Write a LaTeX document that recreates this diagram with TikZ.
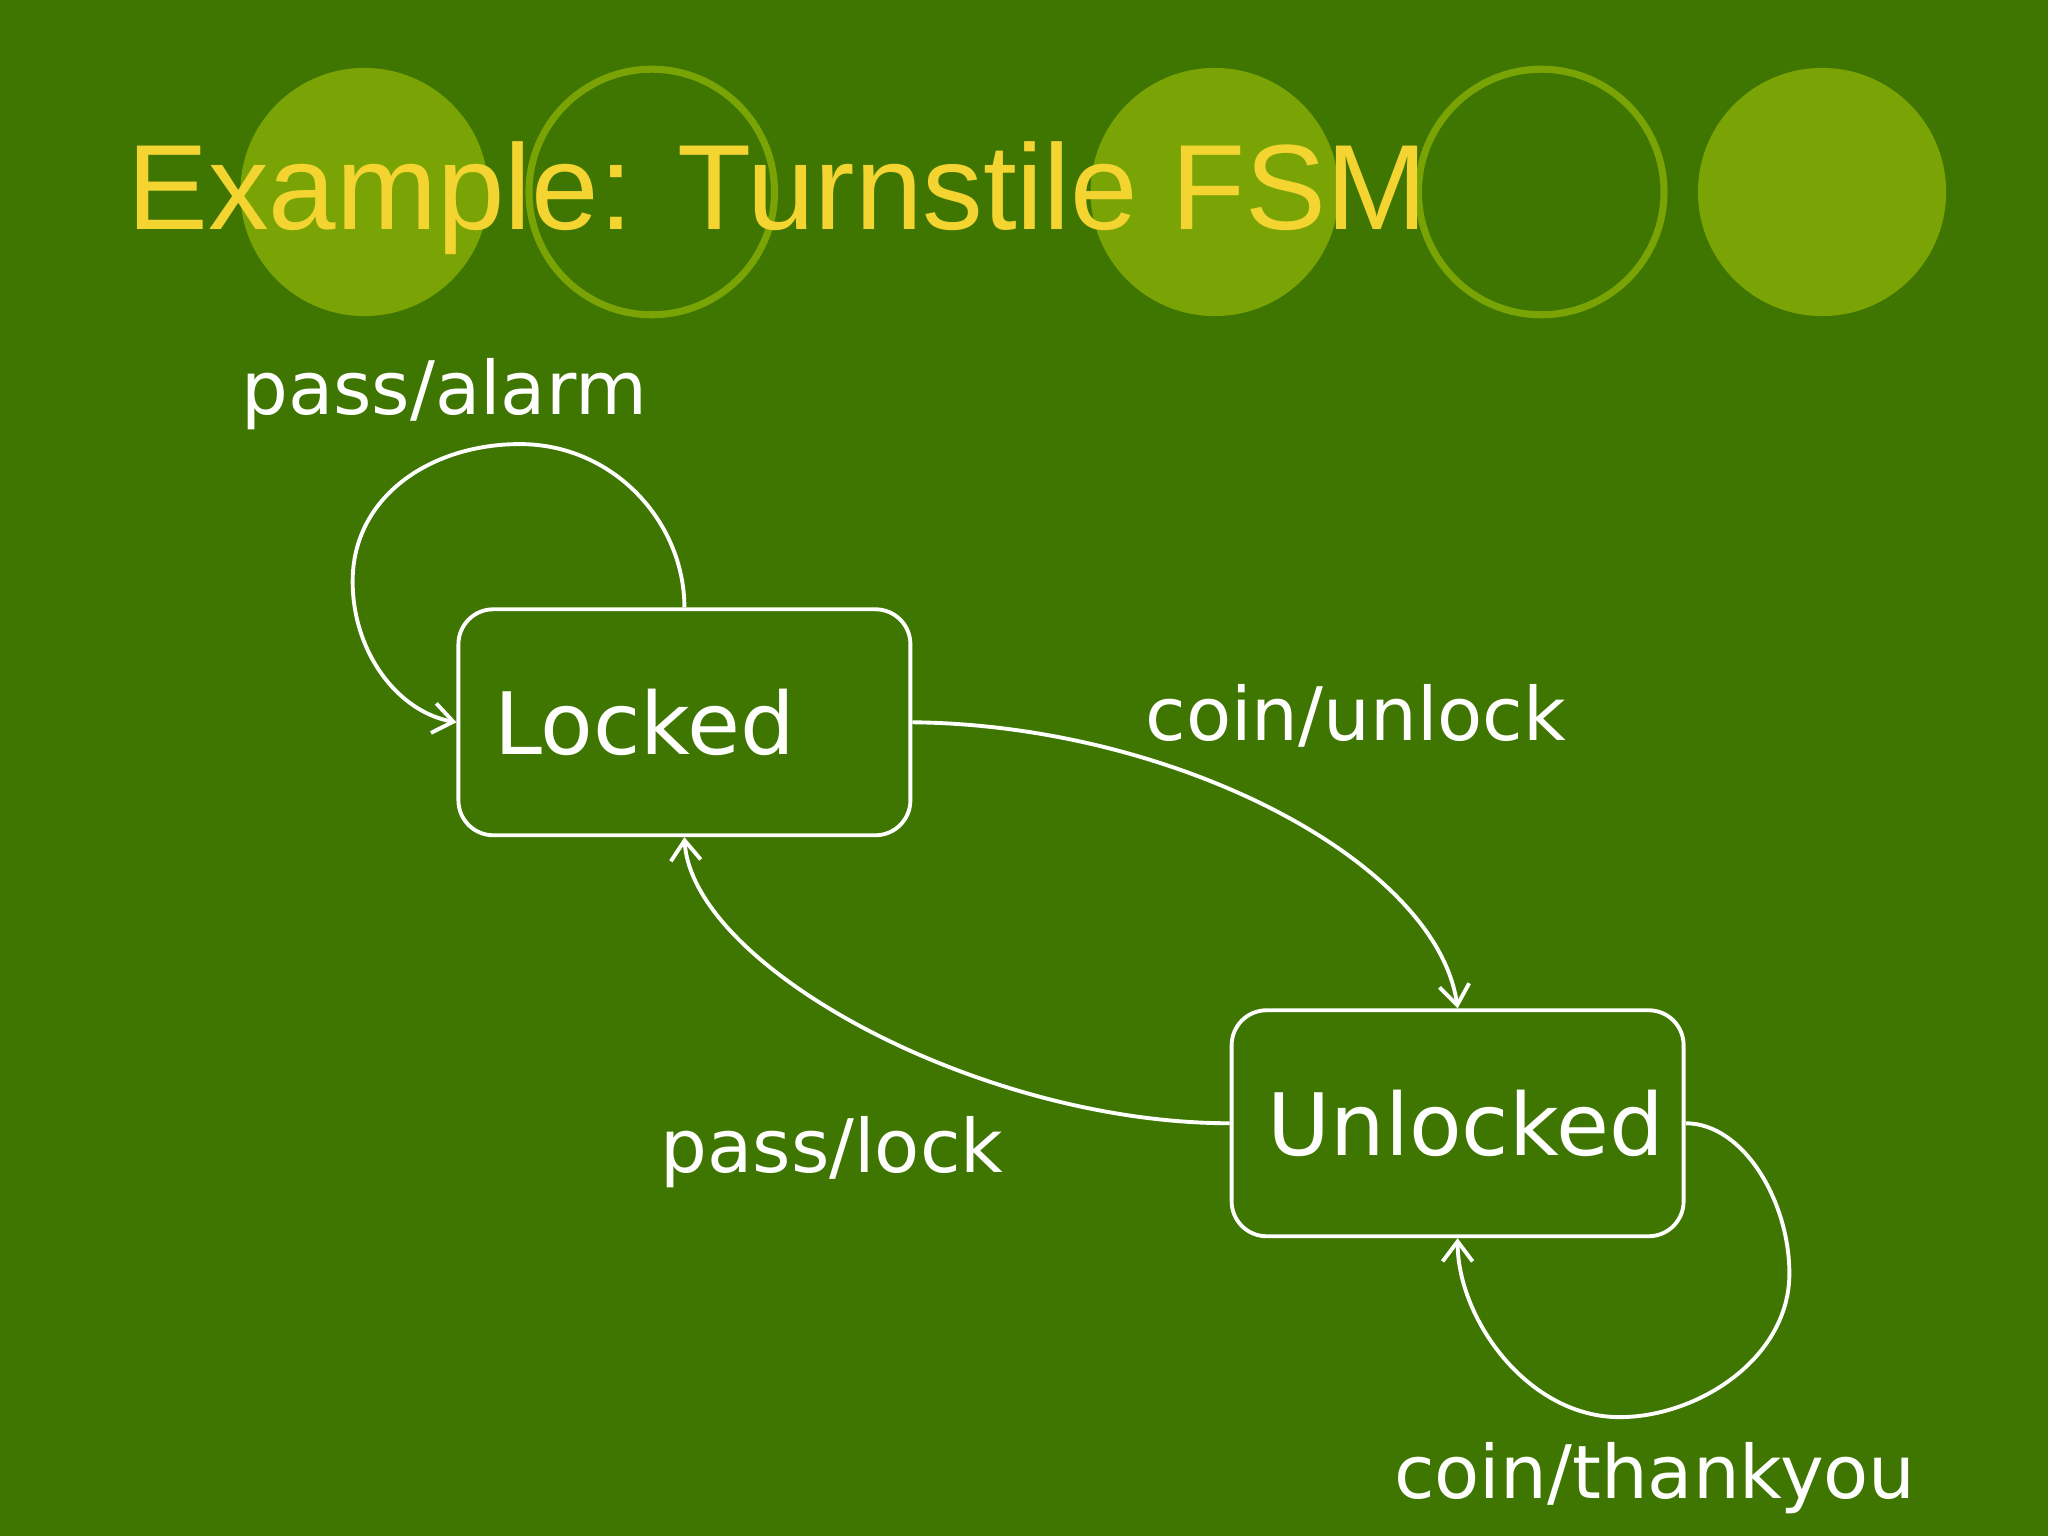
\documentclass[tikz,border=0pt]{standalone}
\usepackage{fontspec}
\setmainfont{DejaVu Sans}
\newfontfamily\titlefont{Liberation Sans}
\usetikzlibrary{arrows.meta}
\definecolor{slidegreen}{HTML}{3F7601}
\definecolor{dotgreen}{HTML}{7AA406}
\definecolor{titleyellow}{HTML}{F4D430}

\begin{document}
\begin{tikzpicture}[x=0.013061cm,y=-0.013061cm]
\fill[slidegreen] (0,0) rectangle (1568,1176);
\useasboundingbox (0,0) rectangle (1568,1176);

\begin{scope}[every path/.style={line width=2pt}]
    \fill[dotgreen] (279,147) circle (95);
    \draw[dotgreen] (499,147) circle (94);
    \fill[dotgreen] (930,147) circle (95);
    \draw[dotgreen] (1180,147) circle (94);
    \fill[dotgreen] (1395,147) circle (95);
\end{scope}

\node (title)[anchor=west,text=titleyellow,font=\titlefont\fontsize{34.5}{40}\selectfont] at (88,152) {Example: Turnstile FSM};

\begin{scope}[every node/.style={draw=white,line width=1.1pt,rounded corners=0.35cm,text=white,
              minimum width=4.52cm,minimum height=2.26cm,text width=3.8cm,align=left,
              inner xsep=0.36cm,font=\fontsize{24.5}{30}\selectfont}]
    \node (locked) at (524,553) {Locked};
    \node (unlocked) at (1116,860) {Unlocked};
\end{scope}

\begin{scope}[every node/.style={text=white,font=\fontsize{21}{25}\selectfont}]
    \node (alarm) at (340,302) {pass/alarm};
    \node (unlock) at (1038,548) {coin/unlock};
    \node (lock) at (637,882) {pass/lock};
    \node (thanks) at (1267,1132) {coin/thankyou};
\end{scope}

\begin{scope}[every path/.style={draw=white,line width=1.1pt,-{Straight Barb[length=2mm,width=3mm]}}]
    \draw (locked.north) .. controls (524,400) and (470,340) .. (398,340)
        .. controls (330,340) and (270,380) .. (270,445)
        .. controls (270,500) and (305,545) .. (locked.west);
    \draw (locked.east) .. controls (900,555) and (1100,660) .. (unlocked.north);
    \draw (unlocked.west) .. controls (750,860) and (530,740) .. (locked.south);
    \draw (unlocked.east) .. controls (1335,860) and (1370,920) .. (1370,975)
        .. controls (1370,1040) and (1300,1085) .. (1240,1085)
        .. controls (1170,1085) and (1116,1010) .. (unlocked.south);
\end{scope}
\end{tikzpicture}
\end{document}
